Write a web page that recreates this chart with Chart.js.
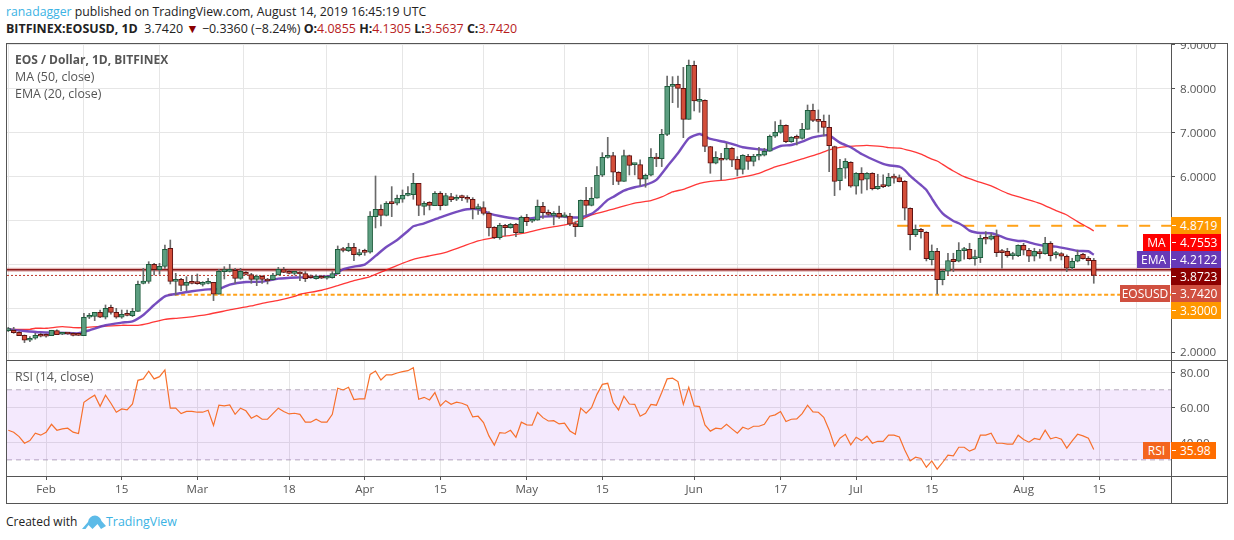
<!DOCTYPE html>
<html><head><meta charset="utf-8">
<script src="https://cdn.jsdelivr.net/npm/chart.js@4"></script>
<style>
html,body{margin:0;padding:0;background:#fff;width:1234px;height:540px;overflow:hidden}
body{font-family:"Open Sans",sans-serif;position:relative}
canvas{position:absolute}
.t{position:absolute;white-space:nowrap;line-height:16px}
.frame{position:absolute;background:#555}
.tag{position:absolute;height:17px;line-height:17px;color:#fff;font-size:12px;text-align:center;z-index:5}
.tag.val{text-align:left;padding-left:9px;box-sizing:border-box}
.tick{position:absolute;left:1172px;width:4px;height:1px;background:#fff;z-index:6}
.red{color:#b71c1c}
</style></head><body>
<div class="t" style="left:6px;top:4px;font-size:12.25px;color:#222"><span style="color:#3bb3e4">ranadagger</span> published on TradingView.com, August 14, 2019 16:45:19 UTC</div>
<div class="t" style="left:6px;top:21px;font-size:12.45px;color:#222"><b>BITFINEX:EOSUSD, 1D</b>&nbsp; 3.7420 <span style="color:#8b0000">▼</span> −0.3360 (−8.24%) <b>O:</b><span class="red">4.0855</span> <b>H:</b><span class="red">4.1305</span> <b>L:</b><span class="red">3.5637</span> <b>C:</b><span class="red">3.7420</span></div>
<div class="t" style="left:15px;top:52px;font-size:12px;color:#555;z-index:4"><b>EOS / Dollar, 1D, BITFINEX</b></div>
<div class="t" style="left:15px;top:69px;font-size:12.4px;color:#555;z-index:4">MA (50, close)</div>
<div class="t" style="left:15px;top:86px;font-size:12.4px;color:#555;z-index:4">EMA (20, close)</div>
<div class="t" style="left:15px;top:369px;font-size:12.4px;color:#555;z-index:4">RSI (14, close)</div>
<div class="t" style="left:6px;top:514px;font-size:12px;color:#222">Created with</div>
<svg style="position:absolute;left:82px;top:514px" width="24" height="17" viewBox="0 0 24 17"><path d="M0 15 L6 8 Q7 2 13 1.5 Q18 2 19.5 7 L24 12 L19 15 L15.5 10 L10.5 15 L6.5 11 L3.5 15 Z" fill="#5dbbe8"/></svg>
<div class="t" style="left:106px;top:514px;font-size:12.4px;color:#3bb3e4">TradingView</div>

<canvas id="main" width="1220" height="316" style="left:7px;top:44px;width:1220px;height:316px"></canvas>
<canvas id="rsi" width="1220" height="143" style="left:7px;top:360px;width:1220px;height:143px"></canvas>

<div class="frame" style="left:6px;top:43px;width:1222px;height:1px"></div>
<div class="frame" style="left:6px;top:503px;width:1222px;height:1px"></div>
<div class="frame" style="left:6px;top:43px;width:1px;height:461px"></div>
<div class="frame" style="left:1227px;top:43px;width:1px;height:461px"></div>
<div class="frame" style="left:1171px;top:43px;width:1px;height:461px"></div>
<div class="frame" style="left:6px;top:360px;width:1222px;height:1px"></div>
<div class="frame" style="left:6px;top:476px;width:1222px;height:1px"></div>
<div id="tags"></div>
<script>
const tickDays=[7,21,35,52,66,80,96,110,127,143,157,171,188,202];
const tickNames=["Feb","15","Mar","18","Apr","15","May","15","Jun","17","Jul","15","Aug","15"];
const priceTicks=[2,3,4,5,6,7,8,9];
const hiddenPriceLabels=[3,4,5];
const rsiTicks=[40,60,80];
const opens=[2.487,2.494,2.448,2.38,2.267,2.312,2.373,2.373,2.373,2.487,
2.403,2.426,2.426,2.388,2.373,2.79,2.812,2.903,2.79,3.017,
2.903,2.79,2.858,2.828,2.926,3.563,3.608,3.995,3.874,3.949,
4.359,3.608,3.654,3.517,3.585,3.57,3.54,3.563,3.585,3.313,
3.828,3.836,3.858,3.676,3.813,3.76,3.654,3.722,3.646,3.646,
3.752,3.874,3.813,3.79,3.813,3.784,3.70,3.67,3.724,3.678,
3.693,3.784,4.32,4.307,4.383,4.216,4.275,4.269,5.08,5.247,
5.11,5.39,5.384,5.475,5.565,5.581,5.838,5.315,5.406,5.33,
5.611,5.338,5.535,5.475,5.528,5.52,5.475,5.262,5.285,5.156,
4.838,4.603,4.883,4.83,4.906,4.717,5.065,4.974,4.997,5.315,
5.179,5.11,5.156,5.073,5.095,4.92,4.853,5.452,5.338,5.498,
6.021,6.43,6.468,6.089,5.884,6.468,6.264,6.264,5.93,6.021,
6.407,6.4,6.953,8.045,8.09,8.0,7.294,8.522,7.704,7.726,
6.673,6.294,6.407,6.385,6.635,6.385,6.157,6.453,6.339,6.453,
6.476,6.567,6.908,6.999,7.158,6.787,6.877,6.862,7.067,7.499,
7.272,7.249,7.112,6.673,5.9,6.18,6.316,5.771,6.066,5.93,
6.066,5.718,5.78,5.78,5.975,5.967,5.884,5.27,4.671,4.792,
4.724,4.102,4.292,3.648,3.837,4.11,4.065,4.307,4.338,4.125,
4.148,4.588,4.565,4.641,4.285,4.292,4.194,4.194,4.429,4.315,
4.178,4.285,4.239,4.474,4.216,4.239,4.178,3.92,4.065,4.224,
4.133,4.0855];
const closes=[2.532,2.441,2.373,2.267,2.312,2.38,2.358,2.358,2.494,2.395,
2.426,2.41,2.38,2.38,2.79,2.812,2.903,2.79,2.994,2.903,
2.79,2.858,2.835,2.926,3.54,3.616,3.995,3.874,3.949,4.336,
3.608,3.631,3.517,3.585,3.563,3.555,3.563,3.585,3.313,3.836,
3.843,3.866,3.676,3.836,3.767,3.654,3.73,3.654,3.616,3.752,
3.881,3.813,3.79,3.813,3.775,3.67,3.69,3.724,3.678,3.70,
3.784,4.338,4.31,4.383,4.216,4.239,4.265,5.095,5.247,5.11,
5.384,5.376,5.497,5.565,5.588,5.838,5.338,5.384,5.338,5.611,
5.33,5.558,5.467,5.52,5.512,5.475,5.262,5.285,5.156,4.823,
4.603,4.883,4.83,4.906,4.717,5.065,4.967,4.997,5.315,5.171,
5.133,5.133,5.065,5.095,4.906,4.853,5.452,5.338,5.497,6.021,
6.43,6.468,6.089,5.884,6.468,6.248,6.278,5.93,6.021,6.43,
6.392,6.953,8.045,8.09,8.0,7.294,8.522,7.711,7.726,6.68,
6.294,6.43,6.362,6.635,6.362,6.157,6.476,6.339,6.453,6.476,
6.567,6.908,6.999,7.158,6.787,6.885,6.862,7.067,7.499,7.272,
7.249,7.112,6.695,5.884,6.18,6.339,5.771,6.066,5.907,6.066,
5.718,5.771,5.763,5.975,5.955,5.876,5.27,4.671,4.792,4.739,
4.125,4.292,3.648,3.837,4.08,4.057,4.315,4.33,4.125,4.155,
4.588,4.565,4.641,4.262,4.262,4.194,4.209,4.429,4.315,4.178,
4.292,4.239,4.474,4.194,4.239,4.178,3.905,4.065,4.201,4.125,
4.08,3.742];
const highs=[2.562,2.562,2.464,2.388,2.35,2.426,2.426,2.411,2.494,2.502,
2.441,2.44,2.441,2.426,2.88,2.88,2.903,2.956,3.07,3.07,
2.994,2.956,2.956,2.994,3.616,3.904,4.055,4.018,4.018,4.434,
4.548,3.79,3.676,3.714,3.737,3.775,3.6,3.676,3.585,3.881,
3.942,3.995,3.904,3.904,3.828,3.79,3.752,3.737,3.676,3.79,
3.927,3.927,3.866,3.828,3.828,3.83,3.754,3.754,3.746,3.73,
3.83,4.413,4.38,4.474,4.474,4.338,4.34,5.194,6.005,5.346,
5.422,5.763,5.573,5.687,5.763,6.066,5.838,5.42,5.42,5.649,
5.649,5.611,5.611,5.573,5.573,5.558,5.512,5.368,5.42,5.194,
4.853,4.929,4.906,4.929,4.929,5.095,5.133,5.02,5.459,5.406,
5.232,5.194,5.323,5.171,5.156,4.967,5.459,5.747,5.747,6.218,
6.536,6.885,6.544,6.104,6.597,6.48,6.294,6.37,6.05,6.627,
6.521,7.067,8.28,8.265,8.28,8.477,8.644,8.62,7.999,7.74,
6.68,6.559,6.52,6.749,6.65,6.445,6.49,6.498,6.498,6.658,
6.635,6.938,7.241,7.279,7.17,6.9,6.938,7.203,7.62,7.643,
7.507,7.393,7.393,6.685,6.385,6.4,6.33,6.08,6.195,6.08,
6.08,6.044,6.03,6.066,6.05,6.028,5.9,5.28,4.891,4.815,
4.739,4.436,4.36,3.868,4.247,4.247,4.489,4.38,4.474,4.32,
4.663,4.739,4.701,4.777,4.338,4.36,4.27,4.44,4.474,4.36,
4.36,4.338,4.61,4.512,4.292,4.262,4.209,4.133,4.32,4.247,
4.171,4.1305];
const lows=[2.464,2.426,2.373,2.214,2.236,2.29,2.343,2.335,2.373,2.395,
2.395,2.40,2.365,2.373,2.373,2.76,2.714,2.782,2.752,2.858,
2.767,2.767,2.82,2.805,2.926,3.548,3.563,3.752,3.767,3.904,
3.548,3.297,3.396,3.396,3.548,3.54,3.5,3.548,3.169,3.313,
3.661,3.82,3.563,3.654,3.752,3.563,3.51,3.563,3.548,3.639,
3.752,3.805,3.775,3.752,3.623,3.602,3.678,3.655,3.67,3.655,
3.678,3.769,4.28,4.285,4.08,4.186,4.2,4.247,4.823,4.868,
5.095,5.08,5.346,5.406,5.55,5.475,5.103,5.118,5.232,5.33,
5.232,5.33,5.42,5.444,5.444,5.406,5.027,5.133,5.118,4.64,
4.58,4.565,4.64,4.815,4.626,4.717,4.876,4.95,4.997,5.042,
5.095,4.891,5.042,5.058,4.876,4.626,4.853,5.118,5.323,5.498,
5.99,6.41,5.809,5.809,5.884,6.028,6.03,5.78,5.748,6.006,
6.218,6.218,6.923,7.673,7.567,6.877,7.294,7.484,7.454,6.559,
6.066,6.28,5.915,6.37,6.218,6.006,6.05,6.157,6.233,6.37,
6.46,6.567,6.885,6.976,6.764,6.77,6.711,6.84,7.067,7.241,
6.999,6.915,6.104,5.558,5.687,5.953,5.748,5.589,5.611,5.687,
5.687,5.70,5.74,5.763,5.84,5.869,5.005,4.322,4.626,4.588,
4.072,3.981,3.322,3.527,3.754,3.83,4.05,4.11,4.11,3.974,
4.034,4.459,4.55,4.171,3.905,4.156,4.11,4.171,4.209,4.057,
4.072,4.133,4.224,4.072,4.133,4.095,3.83,3.868,4.05,4.11,
3.981,3.5637];
const emaDays=[0,3,6,9,12,13,15,18,21,23,25,27,29,31,34,37,39,41,44,47,50,54,56,60,62,64,66,68,70,72,74,75,77,80,83,85,87,89,91,94,96,99,102,104,106,108,109,111,112,114,116,118,120,122,124,126,128,130,133,136,139,141,143,145,147,149,151,152,154,156,158,160,162,163,165,166,167,168,169,170,171,172,173,174,175,176,177,178,179,180,182,183,185,187,188,190,192,194,196,198,200,201];
const emaValues=[2.517,2.479,2.449,2.437,2.426,2.426,2.494,2.608,2.668,2.699,2.843,3.07,3.267,3.32,3.381,3.426,3.434,3.533,3.593,3.6,3.669,3.699,3.708,3.731,3.883,3.943,3.989,4.186,4.391,4.55,4.754,4.861,4.929,5.065,5.187,5.247,5.247,5.156,5.095,5.035,5.035,5.08,5.095,5.065,5.065,5.141,5.232,5.46,5.528,5.672,5.748,5.801,5.915,6.218,6.521,6.862,6.961,6.847,6.771,6.658,6.612,6.59,6.688,6.711,6.787,6.885,6.93,6.93,6.764,6.658,6.506,6.385,6.28,6.248,6.217,6.14,6.005,5.9,5.8,5.687,5.497,5.308,5.156,5.058,4.982,4.929,4.853,4.762,4.724,4.709,4.701,4.671,4.573,4.527,4.527,4.459,4.413,4.398,4.353,4.3,4.292,4.2122];
const maDays=[0,4,5,7,10,12,14,17,21,24,26,29,31,33,37,41,45,47,50,53,54,55,58,61,64,67,70,73,75,78,81,84,87,90,93,96,99,102,105,108,112,116,119,121,123,125,128,130,133,136,139,142,144,147,150,152,154,157,159,162,163,165,167,169,171,172,173,175,177,179,182,185,188,191,194,196,198,200,201];
const maValues=[2.517,2.517,2.54,2.54,2.577,2.555,2.555,2.585,2.608,2.608,2.653,2.744,2.767,2.79,2.858,2.956,3.047,3.108,3.176,3.267,3.313,3.337,3.405,3.511,3.625,3.716,3.868,4.019,4.11,4.186,4.269,4.398,4.527,4.603,4.656,4.717,4.807,4.868,4.952,5.118,5.25,5.39,5.445,5.528,5.642,5.702,5.839,5.884,5.915,5.983,6.066,6.21,6.279,6.392,6.506,6.597,6.658,6.688,6.703,6.673,6.65,6.64,6.58,6.5,6.39,6.346,6.27,6.119,5.99,5.9,5.778,5.611,5.497,5.384,5.217,5.118,4.967,4.83,4.7553];
const rsiValues=[46.9,45.8,43.3,39.5,41.0,45.2,44.1,45.8,50.3,46.9,47.7,48.1,45.8,45.0,62.9,65.0,66.9,60.6,66.9,62.3,57.2,59.1,58.5,61.9,75.4,76.2,80.6,76.2,77.5,81.3,59.5,59.5,56.4,57.7,57.7,57.2,57.2,58.3,49.6,61.2,60.8,61.4,56.0,59.5,58.0,53.8,55.3,53.2,53.2,56.4,59.5,57.6,56.2,56.6,56.0,51.5,51.5,53.2,51.5,51.5,56.0,70.9,69.9,71.4,64.4,64.8,64.8,78.8,80.7,75.6,78.5,78.5,79.6,80.4,80.9,82.6,64.6,
65.7,64.2,68.4,60.8,63.8,61.7,62.9,62.3,61.0,54.5,54.9,51.3,43.7,38.4,45.6,45.2,46.9,42.9,51.5,50.0,49.8,57.2,54.1,52.2,52.4,50.5,50.9,46.5,44.6,59.5,56.6,59.8,67.4,73.1,73.7,62.7,58.5,66.3,61.9,61.7,54.9,56.6,61.7,61.2,68.4,76.2,76.6,74.7,61.7,71.4,60.8,60.4,50.0,46.4,48.1,47.7,50.3,47.7,45.2,48.6,47.5,49.2,49.2,50.3,54.9,55.7,57.6,51.9,53.2,53.4,56.4,61.2,57.4,57.2,54.3,47.1,37.8,
42.4,44.6,38.6,42.9,41.0,43.5,39.5,40.6,40.6,44.1,44.1,43.1,35.7,29.4,31.5,30.8,25.8,29.4,24.7,28.5,32.7,32.3,37.2,37.2,35.0,36.3,44.1,44.1,45.2,39.5,39.5,39.0,39.0,44.1,41.6,40.1,42.2,41.6,46.9,42.0,42.9,41.8,36.7,40.8,44.6,43.7,42.4,35.98];
const supportLevel=3.3, resistLevel=4.8719, midLevel=3.8723, lastPrice=3.742;
const supportFrom=29.6, resistFrom=164.6;
const rsiUpper=70, rsiLower=30;
const tagNames=["","MA","EMA","","EOSUSD",""];
const tagValues=["4.8719","4.7553","4.2122","3.8723","3.7420","3.3000"];

const X0=-0.24, X1=215.3;
const UP="#5c9e80", UPB="#1d5c3c", DN="#d34e3a", DNB="#5e1212";
const sideW=56;
const labelFont={family:"'Open Sans',sans-serif",size:11.6};
const fitY=s=>{s.width=sideW;s.paddingTop=0;s.paddingBottom=0;};
const pairs=(xs,ys)=>xs.map((x,i)=>({x,y:ys[i]}));
const hline=(from,v,color,width,dash,order)=>({type:'line',data:[{x:from,y:v},{x:X1,y:v}],borderColor:color,borderWidth:width,borderDash:dash||[],pointRadius:0,order});
const line=(d,color,width,order)=>({type:'line',data:d,borderColor:color,borderWidth:width,pointRadius:0,tension:0.2,order});
const baseX=(showLabels)=>({type:'linear',min:X0,max:X1,offset:false,
  afterBuildTicks:s=>{s.ticks=tickDays.map(v=>({value:v}));},
  afterFit:s=>{s.height=showLabels?27:0;s.paddingLeft=0;s.paddingRight=0;},
  grid:{color:'#e6e6e6',lineWidth:1,drawTicks:showLabels,tickLength:4,tickColor:'#555'},border:{display:false},
  ticks:{display:showLabels,autoSkip:false,maxRotation:0,padding:3,color:'#555',font:labelFont,
    callback:v=>tickNames[tickDays.indexOf(v)]||''}});
const baseY=(min,max,ticks,fmt,hidden)=>({type:'linear',position:'right',min,max,
  afterBuildTicks:s=>{s.ticks=ticks.map(v=>({value:v}));},afterFit:fitY,
  grid:{color:'#e6e6e6',lineWidth:1,tickLength:4,tickColor:'#555'},border:{display:false},
  ticks:{padding:5,color:'#555',font:labelFont,labelOffset:1,callback:v=>hidden.includes(v)?'':v.toFixed(fmt)}});
const common={responsive:false,animation:false,events:[],devicePixelRatio:1,layout:{padding:0},
  plugins:{legend:{display:false},tooltip:{enabled:false}}};

new Chart(document.getElementById('main'),{type:'bar',data:{datasets:[
 {data:opens.map((o,i)=>({x:i,y:[o,closes[i]]})),grouped:false,barThickness:5,minBarLength:2,borderSkipped:false,borderWidth:1,
  backgroundColor:opens.map((o,i)=>closes[i]>=o?UP:DN),borderColor:opens.map((o,i)=>closes[i]>=o?UPB:DNB),order:0},
 {data:lows.map((l,i)=>({x:i,y:[l,highs[i]]})),grouped:false,barThickness:1,borderSkipped:false,borderWidth:0,backgroundColor:'#6a6a6a',order:1},
 line(pairs(emaDays,emaValues),'rgba(103,58,183,0.9)',2.4,2),
 line(pairs(maDays,maValues),'rgba(255,20,20,0.85)',1.3,3),
 hline(X0,midLevel,'#8b1a1a',1.6,[],4),
 hline(X0,midLevel,'rgba(170,40,40,0.35)',4,[],5),
 hline(X0,lastPrice,'#c0392b',1,[2,2],6),
 hline(supportFrom,supportLevel,'rgba(255,152,0,0.9)',2,[4,2.5],7),
 hline(resistFrom,resistLevel,'rgba(255,152,0,0.9)',2,[11,11],8)
]},options:{...common,scales:{x:baseX(false),y:baseY(1.818,9.008,priceTicks,4,hiddenPriceLabels)}}});

new Chart(document.getElementById('rsi'),{type:'line',data:{datasets:[
 {data:rsiValues.map((v,i)=>({x:i,y:v})),borderColor:'#f7702c',borderWidth:1.2,pointRadius:0,tension:0,order:0},
 {data:[{x:X0,y:rsiUpper},{x:X1,y:rsiUpper}],borderColor:'#b4aabb',borderWidth:1,borderDash:[5,4],pointRadius:0,order:1,
  fill:{value:rsiLower},backgroundColor:'rgba(153,51,240,0.11)'},
 {data:[{x:X0,y:rsiLower},{x:X1,y:rsiLower}],borderColor:'#b4aabb',borderWidth:1,borderDash:[5,4],pointRadius:0,order:2}
]},options:{...common,scales:{x:baseX(true),y:baseY(20.8,87,rsiTicks,2,[])},plugins:{...common.plugins,filler:{propagate:false}}}});

/* right-hand price tags */
const tagRowTop=217, tagRowH=17;
const tagColors=["#ff9800","#ff0000","#673ab7","#8b0000","#d05040","#ff9800"];
const tagLeft=[0,1143,1137,0,1120,0];
const box=document.getElementById('tags');
function addTag(left,width,top,text,color,cls){const d=document.createElement('div');d.className='tag'+(cls?' '+cls:'');
 d.style.cssText=`left:${left}px;width:${width}px;top:${top}px;background:${color}`;d.textContent=text;box.appendChild(d);}
function addTick(top){const d=document.createElement('div');d.className='tick';d.style.top=top+'px';box.appendChild(d);}
tagValues.forEach((v,i)=>{const top=tagRowTop+i*tagRowH;
 addTag(1171,50,top,v,tagColors[i],'val');addTick(top+8);
 if(tagNames[i])addTag(tagLeft[i],1170-tagLeft[i],top,tagNames[i],tagColors[i]);});
addTag(1171,45,442,"35.98","#ff6d00",'val');addTick(450);
addTag(1143,27,442,"RSI","#f4651d");
</script>
</body></html>
